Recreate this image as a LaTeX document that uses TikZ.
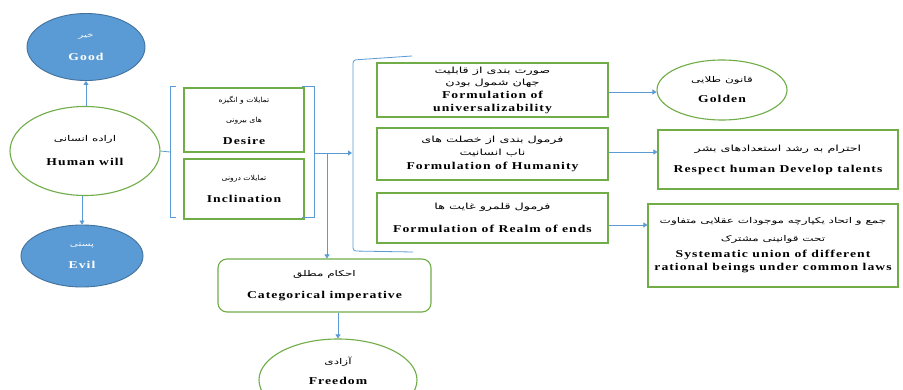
\documentclass[tikz,border=0pt]{standalone}
\usepackage{fontspec}
\setmainfont{Liberation Serif}
\newfontfamily\fa[Script=Arabic, FakeStretch=1.5]{DejaVu Sans}
\newfontfamily\fb[Script=Arabic, FakeStretch=1.1]{DejaVu Sans}
\newfontfamily\en[FakeStretch=1.3, LetterSpace=10]{Liberation Serif}
\TeXXeTstate=1
\usetikzlibrary{arrows.meta,shapes.geometric}
\definecolor{grn}{HTML}{70AD47}
\definecolor{blu}{HTML}{5B9BD5}
\definecolor{dblu}{HTML}{41719C}
\newcommand{\fatx}[2][8.5]{{\fa\fontsize{#1}{11}\selectfont\beginR #2\endR}}
\newcommand{\fbtx}[2][7]{{\fb\fontsize{#1}{11}\selectfont\beginR #2\endR}}
\newcommand{\entx}[1]{{\en\bfseries\fontsize{10.5}{11.5}\selectfont #1}}
\tikzset{
  ell/.style={ellipse, draw=grn, line width=1.1pt, fill=white, align=center, inner sep=0pt},
  bell/.style={ellipse, draw=dblu, line width=0.9pt, fill=blu, text=white, align=center, inner sep=0pt},
  gbox/.style={rectangle, draw=grn, line width=1.1pt, fill=white, align=center, inner sep=0pt},
  txt/.style={align=center, inner sep=0pt},
  arr/.style={draw=blu, line width=0.8pt, -{Triangle[width=5pt,length=4pt]}},
  ln/.style={draw=blu, line width=0.8pt},
}
\begin{document}
\begin{tikzpicture}[x=1pt,y=-1pt]
\useasboundingbox (0,0) rectangle (903,390);
\clip (0,0) rectangle (903,390);
\fill[white] (0,0) rectangle (903,390);

% left column
\node[bell, minimum width=118, minimum height=67] (good) at (86,47)
  {\fatx[7]{خیر}\\[11pt]\entx{Good}};
\node[ell, minimum width=150, minimum height=89] (hw) at (85,151)
  {\fatx[8]{اراده انسانی}\\[12pt]\entx{Human will}};
\node[bell, minimum width=122, minimum height=62] (evil) at (82,256)
  {\fatx[7]{پستی}\\[10pt]\entx{Evil}};
\draw[arr] (good.south |- hw.north) -- (good.south);
\draw[arr] (evil.north |- hw.south) -- (evil.north);

% desire / inclination
\node[gbox, minimum width=120, minimum height=64] (des) at (244,120)
  {\fbtx{تمایلات و انگیزه}\\[8pt]\fbtx{های بیرونی}\\[10pt]\entx{Desire}};
\node[gbox, minimum width=120, minimum height=60] (inc) at (244,189)
  {\fbtx{تمایلات درونی}\\[10pt]\entx{Inclination}};

% small brackets
\coordinate (lb) at (170,152);
\coordinate (rb) at (314,153);
\draw[ln] (176,86) -- (170,86) -- (170,217) -- (176,217);
\draw[ln] (hw.east) -- (lb);
\draw[ln] (302,86) -- (314,86) -- (314,217) -- (302,217);
\coordinate (bb) at (352,153);
\draw[arr] (rb) -- (bb);
\coordinate (dn) at (327,153);

% big bracket
\draw[ln, rounded corners=3pt] (412,56) -- (353,60) -- (353,251) -- (413,252);

% formulations
\node[gbox, minimum width=231, minimum height=54] (uni) at (492.5,90)
  {\fatx{صورت بندی از قابلیت}\\[0.5pt]\fatx{جهان شمول بودن}\\[1pt]\entx{Formulation of}\\[0.5pt]\entx{universalizability}};
\node[gbox, minimum width=231, minimum height=52] (hum) at (492.5,154)
  {\fatx{فرمول بندی از خصلت های}\\[0.5pt]\fatx{ناب انسانیت}\\[2pt]\entx{Formulation of Humanity}};
\node[gbox, minimum width=231, minimum height=50] (realm) at (492.5,218)
  {\fatx{فرمول قلمرو غایت ها}\\[11pt]\entx{Formulation of Realm of ends}};

% results
\node[ell, minimum width=130, minimum height=60] (gold) at (722,90)
  {\fatx[8]{قانون طلایی}\\[8pt]\entx{Golden}};
\node[gbox, minimum width=240, minimum height=59] (resp) at (778,159.5)
  {\fatx{احترام به رشد استعدادهای بشر}\\[9pt]\entx{Respect human Develop talents}};
\node[gbox, minimum width=250, minimum height=83] (sys) at (773,245.5)
  {\fatx[8]{جمع و اتحاد یکپارچه موجودات عقلایی متفاوت}\\[6pt]\fatx[8]{تحت قوانینی مشترک}\\[4pt]\entx{Systematic union of different}\\[1pt]\entx{rational beings under common laws}};
\draw[arr] (uni.east |- 0,92) -- (gold.west |- 0,92);
\draw[arr] (hum.east |- 0,152) -- (resp.west |- 0,152);
\draw[arr] (realm.east |- 0,225) -- (sys.west |- 0,225);

% categorical imperative and freedom
\node[gbox, rounded corners=9pt, minimum width=213, minimum height=53] (cat) at (324.5,285.5)
  {\fatx[8]{احکام مطلق}\\[10pt]\entx{Categorical imperative}};
\node[ell, minimum width=158, minimum height=82] (free) at (338,380) {};
\node[txt] (freet) at (338,371) {\fatx[8]{آزادی}\\[8pt]\entx{Freedom}};
\draw[arr] (dn) -- (dn |- cat.north);
\draw[arr] (cat.south -| free.north) -- (free.north);
\end{tikzpicture}
\end{document}
